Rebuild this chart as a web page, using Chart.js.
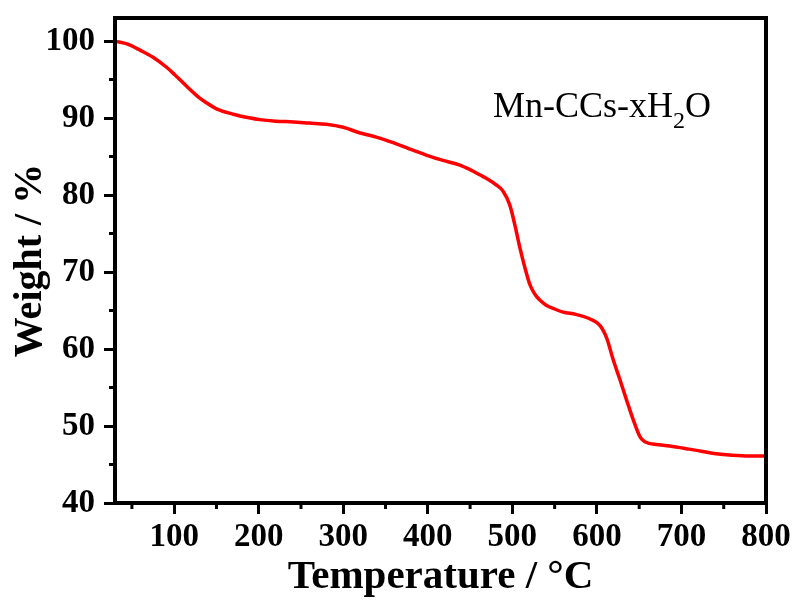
<!DOCTYPE html>
<html>
<head>
<meta charset="utf-8">
<script src="https://cdn.jsdelivr.net/npm/chart.js@4.4.1/dist/chart.umd.min.js"></script>
<style>
  html, body { margin: 0; padding: 0; background: #ffffff; }
  #wrap { width: 799px; height: 601px; position: relative; }
</style>
</head>
<body>
<div id="wrap"><canvas id="tga"></canvas></div>
<script>
// TGA curve: temperature (°C) and remaining weight (%)
const temperature = [30, 45, 60, 75, 91, 100, 115, 128, 138, 150, 170, 190, 201, 220, 241, 260, 280, 300, 319, 340, 359, 378, 398, 418, 438, 450, 462, 472, 480, 489, 497, 503, 509, 515, 520, 524, 528, 534, 540, 550, 560, 575, 592, 604, 612, 619, 627, 635, 643, 651, 656, 662, 670, 686, 709, 725, 741, 760, 780, 800];
const weight      = [100, 99.6, 98.8, 97.9, 96.6, 95.7, 94.1, 92.8, 92.0, 91.2, 90.5, 90.0, 89.8, 89.6, 89.5, 89.35, 89.2, 88.8, 88.1, 87.5, 86.8, 86.0, 85.2, 84.5, 83.9, 83.3, 82.6, 82.0, 81.4, 80.5, 78.7, 76.1, 73.1, 70.5, 68.6, 67.6, 66.9, 66.2, 65.7, 65.2, 64.8, 64.5, 63.9, 63.0, 61.3, 58.7, 56.1, 53.4, 50.8, 48.6, 48.0, 47.75, 47.6, 47.4, 47.0, 46.7, 46.4, 46.2, 46.1, 46.1];

// Axis ticks
const xMajorTicks = [100, 200, 300, 400, 500, 600, 700, 800];
const xMinorTicks = [50, 150, 250, 350, 450, 550, 650, 750];
const yMajorTicks = [40, 50, 60, 70, 80, 90, 100];
const yMinorTicks = [45, 55, 65, 75, 85, 95];

const xLabel = 'Temperature / °C';
const yLabel = 'Weight / %';
const sampleName = ['Mn-CCs-xH', '2', 'O'];

const SERIF = '"Liberation Serif", "Times New Roman", Times, serif';

const points = temperature.map((t, i) => ({ x: t, y: weight[i] }));

// Frame around the plot, minor ticks and the sample name
const framePlugin = {
  id: 'frame',
  afterDraw(chart) {
    const { ctx, chartArea: a, scales } = chart;
    ctx.save();
    ctx.strokeStyle = '#000';
    ctx.lineWidth = 4;
    ctx.strokeRect(a.left, a.top, a.right - a.left, a.bottom - a.top);

    ctx.lineWidth = 3;
    ctx.beginPath();
    xMinorTicks.forEach(v => {
      const px = scales.x.getPixelForValue(v);
      ctx.moveTo(px, a.bottom);
      ctx.lineTo(px, a.bottom + 6);
    });
    yMinorTicks.forEach(v => {
      const py = scales.y.getPixelForValue(v);
      ctx.moveTo(a.left, py);
      ctx.lineTo(a.left - 6, py);
    });
    ctx.stroke();

    // sample name with subscript
    ctx.fillStyle = '#000';
    ctx.textBaseline = 'alphabetic';
    ctx.textAlign = 'left';
    let x = 493;
    const base = 117;
    ctx.font = '36px ' + SERIF;
    ctx.fillText(sampleName[0], x, base);
    x += ctx.measureText(sampleName[0]).width;
    ctx.font = '24px ' + SERIF;
    ctx.fillText(sampleName[1], x, base + 11);
    x += ctx.measureText(sampleName[1]).width;
    ctx.font = '36px ' + SERIF;
    ctx.fillText(sampleName[2], x, base);
    ctx.restore();
  }
};

new Chart(document.getElementById('tga'), {
  type: 'line',
  data: {
    datasets: [{
      data: points,
      borderColor: '#ff0000',
      borderWidth: 3.5,
      pointRadius: 0,
      fill: false,
      cubicInterpolationMode: 'monotone'
    }]
  },
  options: {
    responsive: true,
    maintainAspectRatio: false,
    animation: false,
    layout: { padding: { top: 18, right: 33, left: 0, bottom: 0 } },
    plugins: { legend: { display: false }, tooltip: { enabled: false } },
    scales: {
      x: {
        type: 'linear',
        min: 30,
        max: 800,
        afterBuildTicks: s => { s.ticks = xMajorTicks.map(v => ({ value: v })); },
        afterFit: s => { s.height = 98; s.paddingLeft = 0; s.paddingRight = 0; },
        border: { display: false },
        grid: { drawOnChartArea: false, drawTicks: true, tickLength: 11, lineWidth: 3, color: '#000' },
        ticks: { color: '#000', padding: 4, maxRotation: 0, autoSkip: false,
                 font: { family: SERIF, size: 33, weight: 'bold' } },
        title: { display: true, text: xLabel, color: '#000',
                 font: { family: SERIF, size: 41, weight: 'bold', lineHeight: 1 },
                 padding: { top: 0, bottom: 3 } }
      },
      y: {
        type: 'linear',
        min: 40,
        max: 103,
        afterBuildTicks: s => { s.ticks = yMajorTicks.map(v => ({ value: v })); },
        afterFit: s => { s.width = 115; s.paddingTop = 0; s.paddingBottom = 0; },
        border: { display: false },
        grid: { drawOnChartArea: false, drawTicks: true, tickLength: 11, lineWidth: 3, color: '#000' },
        ticks: { color: '#000', padding: 9, autoSkip: false,
                 font: { family: SERIF, size: 33, weight: 'bold' } },
        title: { display: true, text: yLabel, color: '#000',
                 font: { family: SERIF, size: 40, weight: 'bold', lineHeight: 1 },
                 padding: { top: 11, bottom: 0 } }
      }
    }
  },
  plugins: [framePlugin]
});
</script>
</body>
</html>
